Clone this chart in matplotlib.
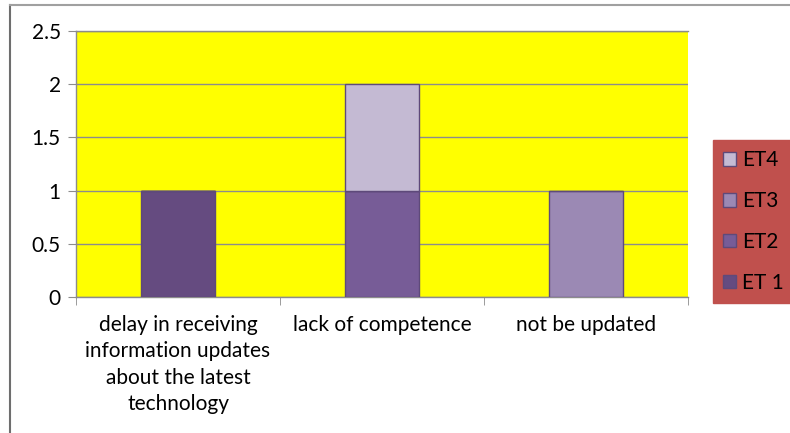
import matplotlib.pyplot as plt
import numpy as np
from matplotlib.lines import Line2D

plt.rcParams['font.family'] = ['Lato', 'DejaVu Sans']

categories = ['delay in receiving\ninformation updates\nabout the latest\ntechnology',
              'lack of competence', 'not be updated']
series_names = ['ET 1', 'ET2', 'ET3', 'ET4']
et1 = [1, 0, 0]
et2 = [0, 1, 0]
et3 = [0, 0, 1]
et4 = [0, 1, 0]
colors = ['#654B80', '#775C97', '#9B89B4', '#C4BAD3']

fig = plt.figure(figsize=(7.9, 4.33), dpi=100)
ax = fig.add_axes([76 / 790, 1 - 297 / 433, (688 - 76) / 790, (297 - 31) / 433])
ax.set_facecolor('#FFFF00')

x = np.arange(len(categories))
bottom = np.zeros(len(categories))
for name, vals, c in zip(series_names, [et1, et2, et3, et4], colors):
    vals = np.array(vals, dtype=float)
    ax.bar(x, vals, width=0.36, bottom=bottom, color=c, edgecolor='#5E4A7A',
           linewidth=1.0, label=name, zorder=3)
    bottom += vals

ax.set_xlim(-0.5, 2.5)
ax.set_ylim(0, 2.5)
ax.set_yticks([0, 0.5, 1, 1.5, 2, 2.5])
ax.set_yticklabels(['0', '0.5', '1', '1.5', '2', '2.5'])
ax.yaxis.grid(True, color='#8C8C8C', linewidth=1.0, zorder=1)
ax.set_xticks(x)
ax.set_xticklabels(categories, fontsize=15, linespacing=1.4)
ax.set_xticks([-0.5, 0.5, 1.5, 2.5], minor=True)
ax.tick_params(axis='x', which='major', length=0, pad=13)
ax.tick_params(axis='x', which='minor', length=6, color='#8C8C8C')
ax.tick_params(axis='y', length=6, color='#8C8C8C', labelsize=15, pad=5)
for s in ['left', 'bottom', 'top']:
    ax.spines[s].set_color('#8C8C8C')
    ax.spines[s].set_linewidth(1.0)
ax.spines['right'].set_visible(False)

h, l = ax.get_legend_handles_labels()
leg = fig.legend(h[::-1], l[::-1], loc='upper left',
                 bbox_to_anchor=(713 / 790, 1 - 140 / 433), frameon=True,
                 fontsize=15, handlelength=0.6, handleheight=0.6,
                 labelspacing=1.0, handletextpad=0.3, borderpad=0.5,
                 borderaxespad=0, fancybox=False)
leg.get_frame().set_facecolor('#C0504D')
leg.get_frame().set_edgecolor('#C0504D')
leg.get_frame().set_alpha(1)

# outer frame lines
fig.add_artist(Line2D([10 / 790, 10 / 790], [0, 1 - 5 / 433], transform=fig.transFigure,
                      color='#6E6E6E', linewidth=1.5))
fig.add_artist(Line2D([10 / 790, 1], [1 - 5 / 433, 1 - 5 / 433], transform=fig.transFigure,
                      color='#A0A0A0', linewidth=1.5))

fig.savefig('out.png', dpi=100)
